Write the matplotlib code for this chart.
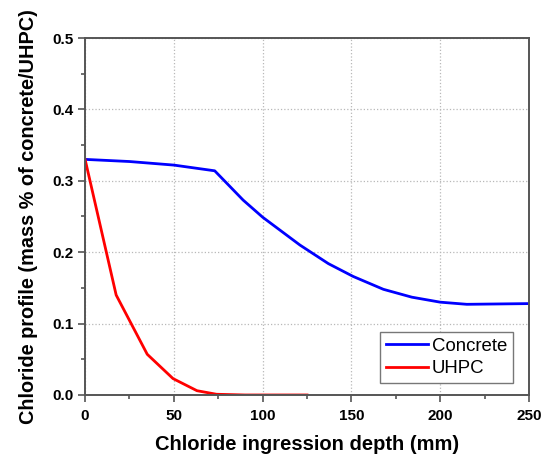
import numpy as np
import matplotlib.pyplot as plt
from matplotlib.ticker import MultipleLocator

# chloride profile data
concrete_x = [0, 25, 50, 73, 89, 100, 121, 137, 151, 168, 184, 200, 215, 250]
concrete_y = [0.33, 0.327, 0.322, 0.314, 0.273, 0.249, 0.210, 0.184, 0.166,
              0.148, 0.137, 0.130, 0.127, 0.128]
uhpc_x = [0, 17.5, 35, 49.5, 63, 74, 90, 110, 125]
uhpc_y = [0.33, 0.140, 0.057, 0.023, 0.006, 0.001, 0.0, 0.0, 0.0]

plt.rcParams['font.family'] = ['Liberation Sans', 'DejaVu Sans']

fig = plt.figure(figsize=(5.42, 4.58), dpi=100)
ax = fig.add_axes([0.157, 0.1376, 0.819, 0.7794])

ax.plot(concrete_x, concrete_y, color='#0000ff', lw=2, label='Concrete')
ax.plot(uhpc_x, uhpc_y, color='#ff0000', lw=2, label='UHPC')

ax.set_xlim(0, 250)
ax.set_ylim(0, 0.5)
ax.xaxis.set_major_locator(MultipleLocator(50))
ax.xaxis.set_minor_locator(MultipleLocator(25))
ax.yaxis.set_major_locator(MultipleLocator(0.1))
ax.yaxis.set_minor_locator(MultipleLocator(0.05))
ax.yaxis.set_major_formatter(plt.FuncFormatter(lambda v, p: '%.1f' % v))

ax.grid(True, which='major', color='#b8b8b8', linestyle=':', linewidth=0.9)
ax.tick_params(which='both', direction='out', top=False, right=False,
               color='#555555', width=1.2)
ax.tick_params(which='major', length=5, labelsize=11)
ax.tick_params(axis='x', which='major', pad=5)
ax.tick_params(which='minor', length=3)
for lab in ax.get_xticklabels() + ax.get_yticklabels():
    lab.set_fontweight('bold')
for s in ax.spines.values():
    s.set_color('#555555')
    s.set_linewidth(1.4)

ax.set_xlabel('Chloride ingression depth (mm)', fontsize=14.5, fontweight='bold', labelpad=9)
ax.set_ylabel('Chloride profile (mass % of concrete/UHPC)', fontsize=14.3,
              fontweight='bold', labelpad=10)

leg = ax.legend(loc='lower right', bbox_to_anchor=(0.964, 0.034), fontsize=13.4,
                fancybox=False, edgecolor='#777777', framealpha=1,
                handlelength=2.3, handletextpad=0.2, borderpad=0.3,
                labelspacing=0.3, borderaxespad=0)
leg.get_frame().set_linewidth(1.0)

fig.savefig('out.png', dpi=100)
